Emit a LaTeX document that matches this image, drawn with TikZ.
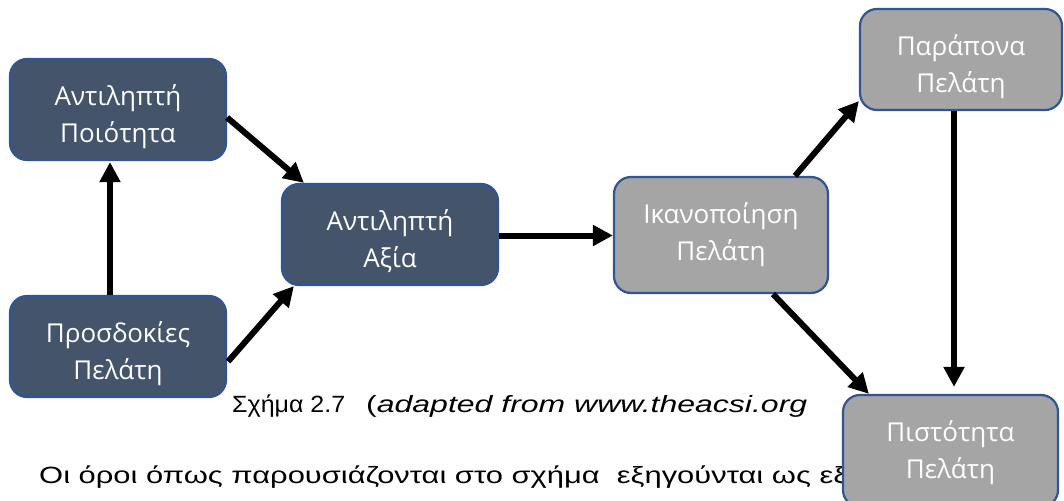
\documentclass[tikz,border=0pt]{standalone}
\usepackage{fontspec}
\usetikzlibrary{arrows.meta,calc}
\newfontfamily\boxfont{Open Sans}
\newfontfamily\capfont{Liberation Sans}
\definecolor{slate}{HTML}{44546A}
\definecolor{midgrey}{HTML}{A5A5A5}
\definecolor{edgeblue}{HTML}{2F5597}
% two centred lines, optionally lowered inside their box
\newcommand{\boxlines}[3][0pt]{\raisebox{-#1}[\height][\depth]{\begin{tabular}{@{}c@{}}#2\\#3\end{tabular}}}
% text squeezed or stretched to a given width
\newcommand{\fitto}[2]{\resizebox{#1}{\height}{#2}}
\tikzset{
  box/.style={draw=edgeblue, line width=2.2pt, rounded corners=17pt,
    text=white, align=center, inner sep=0pt,
    font=\boxfont\fontsize{26}{37}\selectfont},
  darkbox/.style={box, fill=slate, minimum width=216pt, minimum height=101pt},
  greybox/.style={box, fill=midgrey},
  flow/.style={line width=6pt, -{Triangle[length=20pt,width=20pt]}},
  captext/.style={inner sep=0pt, anchor=base west, font=\capfont\fontsize{23.5}{28}\selectfont}
}
\begin{document}
\begin{tikzpicture}[x=1pt, y=-1pt]
\useasboundingbox (0,0) rectangle (1064,500);
\clip (0,0) rectangle (1064,500);

% caption and the start of the following paragraph
\node[captext] (cap) at (232,412)
  {\fitto{113pt}{Σχήμα 2.7}\hspace{21pt}\fitto{441pt}{(\textit{adapted from www.theacsi.org}}};
\node[captext] (para) at (39,483)
  {\fitto{808pt}{Οι όροι όπως παρουσιάζονται στο σχήμα \ εξηγούνται ως εξ}};

% boxes
\node[darkbox] (b1) at (118,109.5) {\boxlines[7pt]{Αντιληπτή}{Ποιότητα}};
\node[darkbox] (b2) at (118,346.5) {\boxlines[7pt]{Προσδοκίες}{Πελάτη}};
\node[darkbox] (b3) at (390,234.5) {\boxlines[7pt]{Αντιληπτή}{Αξία}};
\node[greybox, minimum width=214pt, minimum height=116pt] (b4) at (721,235) {\boxlines{Ικανοποίηση}{Πελάτη}};
\node[greybox, minimum width=202pt, minimum height=101pt] (b5) at (961,59.5) {\boxlines[7pt]{Παράπονα}{Πελάτη}};
\node[greybox, minimum width=215pt, minimum height=112pt] (b6) at (950.5,451) {\boxlines[2pt]{Πιστότητα}{Πελάτη}};

% connector end points
\coordinate (aS) at ($(b3.east)+(0,1)$);
\coordinate (pS) at ($(b5.south)+(-7,0)$);
\coordinate (pE) at ($(b6.north)+(0,-7)$);

% connectors
\draw[flow] ($(b1.east)+(0,8)$) -- ($(b3.north west)+(23,0)$);
\draw[flow] ($(b2.east)+(1,15)$) -- ($(b3.south west)+(13,0)$);
\draw[flow] ($(b2.north)+(-8,0)$) -- ($(b1.south)+(-8,1)$);
\draw[flow] (aS) -- (aS -| b4.west);
\draw[flow] ($(b4.north)+(74,0)$) -- ($(b5.south west)+(0,-10)$);
\draw[flow] ($(b4.south)+(52,0)$) -- ($(b6.north west)+(27,0)$);
\draw[flow] (pS) -- (pS |- pE);
\end{tikzpicture}
\end{document}
